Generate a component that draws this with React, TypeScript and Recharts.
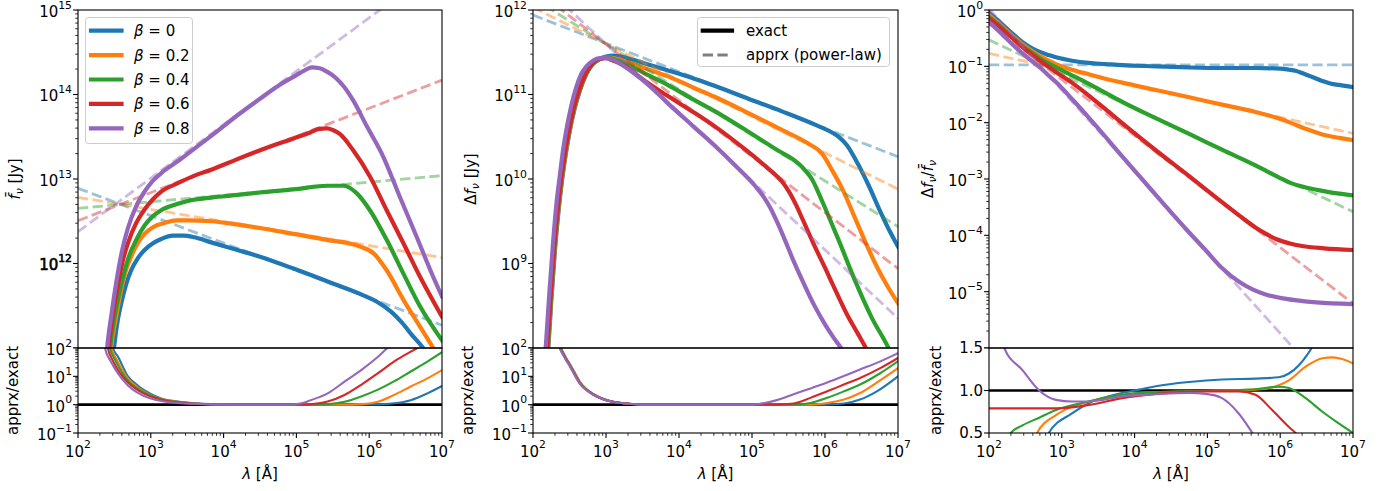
import React from 'react';
import { LineChart, Line, XAxis, YAxis } from 'recharts';

type Pt = [number, number]; // [log10 lambda, value (log10 unless noted)]
type XY = { x: number; y: number };

const FONT = "'DejaVu Sans', 'Liberation Sans', sans-serif";
const COLORS = ['#1f77b4', '#ff7f0e', '#2ca02c', '#d62728', '#9467bd'];
const BETA_LABELS = ['0', '0.2', '0.4', '0.6', '0.8'];

// tick definitions (exponents)
const X_EXP: [number, number] = [2, 7];
const X_LABELED = [2, 3, 4, 5, 6, 7];
const P1_Y_EXP: [number, number] = [11, 15];
const P1_Y_LABELED = [12, 13, 14, 15];
const P2_Y_EXP: [number, number] = [8, 12];
const P2_Y_LABELED = [9, 10, 11, 12];
const P3_Y_EXP: [number, number] = [-6, 0];
const P3_Y_LABELED = [-5, -4, -3, -2, -1, 0];
const RATIO_Y_EXP: [number, number] = [-1, 2];
const RATIO_Y_LABELED = [-1, 0, 1, 2];
const P3_RATIO_TICKS = [0.5, 1.0, 1.5];

// ---------------- Panel 1 : mean flux (log10 Jy) ----------------
const P1_EXACT_B0: Pt[] = [[2.46,10.7],[2.494,11.0],[2.55,11.35],[2.594,11.53],[2.66,11.75],[2.73,11.92],[2.82,12.06],[2.914,12.16],[3.03,12.24],[3.143,12.29],[3.3,12.33],[3.45,12.33],[3.6,12.31],[3.83,12.25],[4.19,12.16],[4.5,12.08],[4.96,11.94],[5.42,11.79],[5.875,11.64],[6.1,11.55],[6.3,11.43],[6.45,11.30],[6.6,11.14],[6.74,11.0],[6.8,10.92]];
const P1_EXACT_B2: Pt[] = [[2.43,10.7],[2.457,11.0],[2.52,11.35],[2.594,11.69],[2.66,11.92],[2.73,12.08],[2.82,12.24],[2.914,12.35],[3.03,12.43],[3.19,12.48],[3.35,12.51],[3.51,12.51],[3.83,12.50],[4.2,12.46],[4.5,12.42],[4.96,12.35],[5.42,12.28],[5.875,12.20],[6.06,12.12],[6.24,11.92],[6.47,11.57],[6.70,11.25],[6.88,11.0],[6.95,10.9]];
const P1_EXACT_B4: Pt[] = [[2.41,10.7],[2.44,11.0],[2.50,11.35],[2.56,11.62],[2.63,11.88],[2.69,12.06],[2.80,12.28],[2.914,12.45],[3.03,12.56],[3.143,12.63],[3.35,12.70],[3.51,12.74],[3.83,12.78],[4.06,12.80],[4.5,12.84],[5.0,12.88],[5.42,12.92],[5.65,12.92],[5.83,12.83],[6.01,12.63],[6.24,12.28],[6.47,11.88],[6.70,11.49],[7.0,11.09]];
const P1_EXACT_B6: Pt[] = [[2.39,10.7],[2.42,11.0],[2.48,11.4],[2.55,11.75],[2.62,12.05],[2.69,12.25],[2.80,12.48],[2.914,12.64],[3.03,12.76],[3.143,12.85],[3.37,12.95],[3.6,13.04],[3.83,13.11],[4.06,13.19],[4.5,13.34],[4.96,13.48],[5.19,13.55],[5.30,13.59],[5.42,13.60],[5.50,13.58],[5.60,13.53],[5.78,13.34],[6.01,13.03],[6.24,12.63],[6.47,12.24],[6.70,11.84],[7.0,11.37]];
const P1_EXACT_B8: Pt[] = [[2.37,10.7],[2.40,11.0],[2.46,11.4],[2.53,11.8],[2.60,12.13],[2.686,12.42],[2.80,12.68],[2.914,12.85],[3.03,12.98],[3.143,13.07],[3.37,13.21],[3.6,13.36],[3.83,13.51],[4.2,13.76],[4.5,13.95],[4.8,14.13],[5.0,14.23],[5.1,14.28],[5.21,14.32],[5.32,14.31],[5.42,14.27],[5.55,14.19],[5.646,14.10],[5.78,13.93],[5.97,13.62],[6.195,13.26],[6.42,12.79],[6.65,12.32],[6.88,11.84],[7.0,11.61]];
const P1_APPRX_B0: Pt[] = [[2, 12.89], [7, 11.27]];
const P1_APPRX_B2: Pt[] = [[2, 12.783], [7, 12.07]];
const P1_APPRX_B4: Pt[] = [[2, 12.653], [7, 13.04]];
const P1_APPRX_B6: Pt[] = [[2, 12.507], [7, 14.17]];
const P1_APPRX_B8: Pt[] = [[2, 12.377], [7, 15.54]];
// log10(apprx/exact)
const P1_RATIO_B0: Pt[] = [[2.46,2.3],[2.48,2.0],[2.55,1.69],[2.686,1.0],[2.80,0.72],[2.914,0.50],[3.143,0.22],[3.37,0.11],[3.6,0.05],[3.83,0.02],[4.5,0.0],[5.5,0.0],[6.0,0.005],[6.2,0.02],[6.34,0.05],[6.57,0.16],[6.8,0.40],[7.0,0.66]];
const P1_RATIO_B2: Pt[] = [[2.44,2.3],[2.46,2.0],[2.53,1.6],[2.686,0.92],[2.80,0.65],[2.914,0.45],[3.143,0.2],[3.37,0.1],[3.6,0.04],[3.83,0.02],[4.5,0],[5.6,0.0],[5.9,0.02],[6.12,0.1],[6.34,0.34],[6.57,0.64],[6.80,0.93],[7.0,1.22]];
const P1_RATIO_B4: Pt[] = [[2.42,2.3],[2.44,2.0],[2.51,1.58],[2.686,0.85],[2.80,0.6],[2.914,0.42],[3.143,0.19],[3.37,0.09],[3.6,0.04],[3.83,0.02],[4.5,0],[5.3,0.0],[5.45,0.02],[5.66,0.1],[5.89,0.29],[6.12,0.53],[6.34,0.82],[6.57,1.17],[6.80,1.52],[7.0,1.85]];
const P1_RATIO_B6: Pt[] = [[2.39,2.3],[2.41,2.0],[2.48,1.55],[2.686,0.78],[2.80,0.55],[2.914,0.38],[3.143,0.17],[3.37,0.08],[3.6,0.03],[3.83,0.01],[4.5,0],[5.1,0.0],[5.25,0.03],[5.43,0.11],[5.66,0.34],[5.89,0.70],[6.12,1.11],[6.34,1.52],[6.57,1.87],[6.66,2.0],[6.72,2.1]];
const P1_RATIO_B8: Pt[] = [[2.35,2.3],[2.37,2.0],[2.457,1.5],[2.549,1.1],[2.686,0.68],[2.80,0.45],[2.914,0.30],[3.143,0.13],[3.37,0.06],[3.6,0.03],[3.83,0.01],[4.5,0],[4.9,0.0],[5.0,0.02],[5.1,0.07],[5.2,0.16],[5.43,0.40],[5.66,0.81],[5.89,1.22],[6.12,1.69],[6.25,2.0],[6.3,2.1]];

// ---------------- Panel 2 : variable flux (log10 Jy) ----------------
const P2_EXACT_B0: Pt[] = [[2.195,7.8],[2.21,8.0],[2.25,8.55],[2.30,9.15],[2.35,9.62],[2.40,10.0],[2.45,10.30],[2.50,10.55],[2.57,10.83],[2.64,11.04],[2.73,11.24],[2.82,11.36],[2.914,11.42],[3.0,11.45],[3.1,11.46],[3.2,11.45],[3.37,11.41],[3.6,11.35],[3.83,11.29],[4.2,11.19],[4.495,11.10],[4.95,10.95],[5.41,10.80],[5.87,10.64],[6.095,10.55],[6.2,10.49],[6.3,10.40],[6.45,10.18],[6.6,9.92],[6.75,9.63],[6.9,9.36],[7.0,9.20]];
const P2_EXACT_B2: Pt[] = [[2.19,7.8],[2.205,8.0],[2.245,8.55],[2.295,9.15],[2.345,9.62],[2.395,10.0],[2.445,10.30],[2.495,10.55],[2.565,10.83],[2.635,11.04],[2.725,11.24],[2.815,11.36],[2.914,11.42],[3.0,11.44],[3.1,11.43],[3.2,11.41],[3.37,11.36],[3.6,11.29],[3.83,11.22],[4.2,11.08],[4.495,10.97],[4.95,10.78],[5.41,10.58],[5.77,10.42],[5.96,10.30],[6.1,10.10],[6.25,9.86],[6.4,9.56],[6.55,9.26],[6.7,8.98],[6.85,8.74],[7.0,8.53]];
const P2_EXACT_B4: Pt[] = [[2.185,7.8],[2.20,8.0],[2.24,8.55],[2.29,9.15],[2.34,9.62],[2.39,10.0],[2.44,10.30],[2.49,10.55],[2.56,10.83],[2.63,11.04],[2.72,11.24],[2.81,11.36],[2.914,11.42],[3.0,11.44],[3.1,11.42],[3.2,11.39],[3.37,11.32],[3.6,11.22],[3.83,11.12],[4.2,10.94],[4.495,10.80],[4.95,10.56],[5.41,10.31],[5.55,10.24],[5.64,10.18],[5.73,10.10],[5.82,10.0],[5.91,9.84],[6.0,9.66],[6.19,9.27],[6.41,8.80],[6.64,8.36],[6.87,8.0],[6.95,7.85]];
const P2_EXACT_B6: Pt[] = [[2.18,7.8],[2.195,8.0],[2.235,8.55],[2.285,9.15],[2.335,9.62],[2.385,10.0],[2.435,10.30],[2.485,10.55],[2.555,10.83],[2.625,11.04],[2.715,11.24],[2.805,11.36],[2.9,11.42],[3.0,11.43],[3.1,11.40],[3.28,11.33],[3.5,11.18],[3.83,10.99],[4.2,10.79],[4.495,10.62],[4.95,10.32],[5.2,10.14],[5.32,10.05],[5.41,9.97],[5.50,9.86],[5.6,9.70],[5.7,9.51],[5.85,9.22],[6.0,8.95],[6.15,8.67],[6.3,8.40],[6.45,8.17],[6.56,8.0],[6.62,7.9]];
const P2_EXACT_B8: Pt[] = [[2.16,7.8],[2.174,8.0],[2.22,8.6],[2.274,9.24],[2.32,9.7],[2.366,10.03],[2.41,10.33],[2.457,10.58],[2.52,10.85],[2.594,11.09],[2.66,11.24],[2.73,11.33],[2.82,11.40],[2.914,11.43],[3.0,11.43],[3.1,11.41],[3.2,11.36],[3.37,11.26],[3.6,11.10],[3.83,10.91],[4.2,10.62],[4.495,10.39],[4.77,10.16],[5.04,9.92],[5.15,9.80],[5.25,9.66],[5.35,9.48],[5.45,9.28],[5.55,9.07],[5.7,8.78],[5.85,8.51],[6.0,8.28],[6.12,8.12],[6.22,8.0],[6.3,7.9]];
const P2_APPRX_B0: Pt[] = [[2, 11.94], [7, 10.264]];
const P2_APPRX_B2: Pt[] = [[2, 12.03], [7, 9.88]];
const P2_APPRX_B4: Pt[] = [[2, 12.14], [7, 9.436]];
const P2_APPRX_B6: Pt[] = [[2, 12.26], [7, 8.94]];
const P2_APPRX_B8: Pt[] = [[2, 12.41], [7, 8.35]];
const P2_RATIO_B0: Pt[] = [[2.345,2.3],[2.385,2.0],[2.455,1.65],[2.525,1.35],[2.655,0.76],[2.845,0.35],[3.07,0.12],[3.29,0.04],[3.52,0.0],[4.5,0],[6.0,0.0],[6.26,0.04],[6.48,0.18],[6.71,0.47],[7.0,1.0]];
const P2_RATIO_B2: Pt[] = [[2.34,2.3],[2.38,2.0],[2.45,1.65],[2.52,1.35],[2.65,0.76],[2.84,0.35],[3.065,0.12],[3.285,0.04],[3.515,0.0],[4.5,0],[5.8,0.0],[6.03,0.06],[6.26,0.18],[6.48,0.41],[6.75,0.85],[7.0,1.29]];
const P2_RATIO_B4: Pt[] = [[2.335,2.3],[2.375,2.0],[2.445,1.65],[2.515,1.35],[2.645,0.76],[2.835,0.35],[3.06,0.12],[3.28,0.04],[3.51,0.0],[4.5,0],[5.6,0.0],[5.8,0.06],[6.03,0.24],[6.25,0.46],[6.48,0.71],[6.75,1.1],[7.0,1.53]];
const P2_RATIO_B6: Pt[] = [[2.33,2.3],[2.37,2.0],[2.44,1.65],[2.51,1.35],[2.64,0.76],[2.83,0.35],[3.06,0.12],[3.28,0.04],[3.51,0.0],[4.5,0],[5.35,0.0],[5.57,0.04],[5.80,0.24],[6.03,0.47],[6.25,0.70],[6.48,0.94],[6.75,1.28],[7.0,1.65]];
const P2_RATIO_B8: Pt[] = [[2.325,2.3],[2.365,2.0],[2.435,1.65],[2.505,1.35],[2.635,0.76],[2.825,0.35],[3.055,0.12],[3.275,0.04],[3.505,0.0],[4.5,0],[5.0,0.0],[5.11,0.03],[5.34,0.16],[5.57,0.37],[5.8,0.57],[6.03,0.78],[6.25,1.0],[6.48,1.24],[6.75,1.52],[7.0,1.82]];

// ---------------- Panel 3 : fractional variability (log10) ----------------
const P3_EXACT_B0: Pt[] = [[2.0,-0.05],[2.12,-0.18],[2.23,-0.31],[2.35,-0.45],[2.46,-0.57],[2.58,-0.67],[2.69,-0.74],[2.82,-0.80],[2.92,-0.84],[3.14,-0.90],[3.37,-0.94],[3.6,-0.96],[3.83,-0.98],[4.29,-1.0],[4.75,-1.02],[5.2,-1.03],[5.66,-1.03],[6.0,-1.04],[6.12,-1.06],[6.21,-1.08],[6.3,-1.12],[6.40,-1.17],[6.5,-1.22],[6.58,-1.26],[6.7,-1.31],[6.81,-1.33],[7.0,-1.37]];
const P3_EXACT_B2: Pt[] = [[2.0,-0.09],[2.12,-0.22],[2.23,-0.35],[2.35,-0.49],[2.46,-0.61],[2.58,-0.72],[2.69,-0.81],[2.82,-0.90],[2.92,-0.96],[3.14,-1.06],[3.37,-1.14],[3.6,-1.22],[3.83,-1.29],[4.29,-1.42],[4.75,-1.55],[5.2,-1.68],[5.66,-1.81],[5.94,-1.91],[6.12,-1.99],[6.35,-2.11],[6.58,-2.21],[6.72,-2.25],[6.85,-2.28],[7.0,-2.31]];
const P3_EXACT_B4: Pt[] = [[2.0,-0.12],[2.12,-0.25],[2.23,-0.38],[2.35,-0.52],[2.46,-0.64],[2.58,-0.75],[2.69,-0.85],[2.82,-0.95],[2.92,-1.02],[3.14,-1.16],[3.37,-1.31],[3.6,-1.47],[3.83,-1.63],[4.29,-1.92],[4.75,-2.20],[5.2,-2.48],[5.66,-2.76],[5.98,-2.97],[6.12,-3.06],[6.35,-3.15],[6.58,-3.21],[6.81,-3.26],[7.0,-3.29]];
const P3_EXACT_B6: Pt[] = [[2.0,-0.15],[2.12,-0.27],[2.23,-0.40],[2.35,-0.53],[2.46,-0.66],[2.58,-0.78],[2.69,-0.89],[2.82,-1.01],[2.92,-1.10],[3.14,-1.29],[3.37,-1.52],[3.6,-1.76],[3.83,-2.01],[4.29,-2.49],[4.75,-2.95],[5.2,-3.41],[5.43,-3.64],[5.66,-3.86],[5.8,-3.97],[5.95,-4.07],[6.12,-4.14],[6.3,-4.19],[6.6,-4.23],[7.0,-4.26]];
const P3_EXACT_B8: Pt[] = [[2.0,-0.22],[2.1,-0.33],[2.21,-0.47],[2.33,-0.62],[2.46,-0.77],[2.58,-0.90],[2.69,-1.01],[2.8,-1.14],[2.92,-1.28],[3.14,-1.58],[3.37,-1.91],[3.6,-2.25],[3.83,-2.60],[4.29,-3.28],[4.75,-3.95],[4.98,-4.27],[5.2,-4.58],[5.43,-4.82],[5.62,-4.96],[5.8,-5.05],[6.0,-5.11],[6.2,-5.15],[6.5,-5.19],[7.0,-5.22]];
const P3_APPRX_B0: Pt[] = [[2, -0.975], [7, -0.975]];
const P3_APPRX_B2: Pt[] = [[2, -0.77], [7, -2.19]];
const P3_APPRX_B4: Pt[] = [[2, -0.53], [7, -3.58]];
const P3_APPRX_B6: Pt[] = [[2, -0.24], [7, -5.21]];
const P3_APPRX_B8: Pt[] = [[2, 0.02], [7, -7.18]];
// linear apprx/exact
const P3_RATIO_B0: Pt[] = [[2.78,0.4],[2.82,0.5],[3.14,0.73],[3.37,0.85],[3.83,0.97],[4.06,1.01],[4.29,1.05],[4.75,1.10],[5.2,1.13],[5.66,1.14],[5.98,1.155],[6.12,1.2],[6.26,1.30],[6.37,1.42],[6.43,1.5],[6.47,1.58]];
const P3_RATIO_B2: Pt[] = [[2.62,0.4],[2.66,0.5],[2.92,0.71],[3.14,0.81],[3.37,0.87],[3.83,0.95],[4.29,0.98],[4.75,0.99],[5.2,1.0],[5.66,1.01],[5.94,1.05],[6.12,1.12],[6.35,1.28],[6.58,1.38],[6.72,1.39],[6.85,1.37],[7.0,1.32]];
const P3_RATIO_B4: Pt[] = [[2.25,0.4],[2.30,0.5],[2.46,0.59],[2.69,0.68],[2.92,0.77],[3.37,0.87],[3.83,0.95],[4.29,0.98],[4.75,0.99],[5.2,1.0],[5.66,1.015],[5.98,1.045],[6.12,1.03],[6.35,0.91],[6.58,0.75],[6.81,0.61],[7.0,0.5]];
const P3_RATIO_B6: Pt[] = [[2.0,0.79],[2.5,0.79],[2.92,0.79],[3.37,0.83],[3.83,0.91],[4.29,0.96],[4.98,0.99],[5.43,0.99],[5.66,0.95],[5.89,0.77],[6.12,0.57],[6.21,0.5],[6.26,0.45]];
const P3_RATIO_B8: Pt[] = [[2.17,1.6],[2.21,1.5],[2.46,1.24],[2.69,1.0],[2.92,0.89],[3.14,0.87],[3.37,0.87],[3.83,0.93],[4.29,0.955],[4.75,0.97],[4.98,0.96],[5.2,0.91],[5.43,0.73],[5.62,0.5],[5.66,0.45]];

const RATIO_ONE_LOG: Pt[] = [[2, 0], [7, 0]];
const RATIO_ONE_LIN: Pt[] = [[2, 1], [7, 1]];

const P1_EXACT = [P1_EXACT_B0, P1_EXACT_B2, P1_EXACT_B4, P1_EXACT_B6, P1_EXACT_B8];
const P1_APPRX = [P1_APPRX_B0, P1_APPRX_B2, P1_APPRX_B4, P1_APPRX_B6, P1_APPRX_B8];
const P1_RATIO = [P1_RATIO_B0, P1_RATIO_B2, P1_RATIO_B4, P1_RATIO_B6, P1_RATIO_B8];
const P2_EXACT = [P2_EXACT_B0, P2_EXACT_B2, P2_EXACT_B4, P2_EXACT_B6, P2_EXACT_B8];
const P2_APPRX = [P2_APPRX_B0, P2_APPRX_B2, P2_APPRX_B4, P2_APPRX_B6, P2_APPRX_B8];
const P2_RATIO = [P2_RATIO_B0, P2_RATIO_B2, P2_RATIO_B4, P2_RATIO_B6, P2_RATIO_B8];
const P3_EXACT = [P3_EXACT_B0, P3_EXACT_B2, P3_EXACT_B4, P3_EXACT_B6, P3_EXACT_B8];
const P3_APPRX = [P3_APPRX_B0, P3_APPRX_B2, P3_APPRX_B4, P3_APPRX_B6, P3_APPRX_B8];
const P3_RATIO = [P3_RATIO_B0, P3_RATIO_B2, P3_RATIO_B4, P3_RATIO_B6, P3_RATIO_B8];

// ---------------- helpers ----------------
const toLog = (pts: Pt[]): XY[] => pts.map(([l, v]) => ({ x: Math.pow(10, l), y: Math.pow(10, v) }));
const toLin = (pts: Pt[]): XY[] => pts.map(([l, v]) => ({ x: Math.pow(10, l), y: v }));

function logTicks([lo, hi]: [number, number]): number[] {
  const t: number[] = [];
  for (let e = lo; e <= hi; e++) {
    t.push(Math.pow(10, e));
    if (e < hi) for (let k = 2; k <= 9; k++) t.push(k * Math.pow(10, e));
  }
  return t;
}
const expText = (e: number) => (e < 0 ? `\u2212${-e}` : `${e}`);
const majorExp = (v: number): number | null => {
  const e = Math.log10(v);
  const r = Math.round(e);
  return Math.abs(e - r) < 1e-6 ? r : null;
};

const FS = 15;
const SUP = 10.8;

const XTick = (p: any) => {
  const r = majorExp(p.payload.value);
  const major = r !== null;
  return (
    <g>
      <line x1={p.x} x2={p.x} y1={p.y} y2={p.y + (major ? 4.9 : 2.8)} stroke="#000" strokeWidth={major ? 1.1 : 0.8} />
      {major && X_LABELED.includes(r as number) && (
        <text x={p.x} y={p.y + 23.5} textAnchor="middle" fontFamily={FONT} fontSize={FS} fill="#000">
          10<tspan dy={-8.5} fontSize={SUP}>{expText(r as number)}</tspan>
        </text>
      )}
    </g>
  );
};

const makeLogYTick = (labeled: number[], bold: number[] = []) => (p: any) => {
  const r = majorExp(p.payload.value);
  const major = r !== null;
  const lab = major && labeled.includes(r as number);
  const isBold = lab && bold.includes(r as number);
  return (
    <g>
      <line x1={p.x - (major ? 4.9 : 2.8)} x2={p.x} y1={p.y} y2={p.y} stroke="#000" strokeWidth={major ? 1.1 : 0.8} />
      {lab && (
        <text x={p.x - 6} y={p.y + 6.9} textAnchor="end" fontFamily={FONT} fontSize={FS} fill="#000"
          stroke={isBold ? '#000' : 'none'} strokeWidth={isBold ? 0.6 : 0}>
          10<tspan dy={-8.3} fontSize={SUP}>{expText(r as number)}</tspan>
        </text>
      )}
    </g>
  );
};

const LinYTick = (p: any) => (
  <g>
    <line x1={p.x - 4.9} x2={p.x} y1={p.y} y2={p.y} stroke="#000" strokeWidth={1.1} />
    <text x={p.x - 6} y={p.y + 5.4} textAnchor="end" fontFamily={FONT} fontSize={FS} fill="#000">
      {Number(p.payload.value).toFixed(1)}
    </text>
  </g>
);

interface SeriesSpec { data: XY[]; color: string; width: number; dashed?: boolean; opacity?: number; linear?: boolean; }

const YW = 78, MT = 16, MR = 16, XH = 58;
const X_TICKS = logTicks(X_EXP);

function Panel(props: {
  px: number; py: number; pw: number; ph: number;
  yDomain: [number, number]; yLog: boolean; yTicks: number[]; yTick: any;
  showX: boolean; series: SeriesSpec[];
}) {
  const { px, py, pw, ph, yDomain, yLog, yTicks, yTick, showX, series } = props;
  return (
    <div style={{ position: 'absolute', left: px - YW, top: py - MT }}>
      <LineChart width={YW + pw + MR} height={MT + ph + (showX ? XH : 0)} margin={{ top: MT, right: MR, bottom: 0, left: 0 }}>
        <XAxis type="number" dataKey="x" scale="log" domain={[100, 1e7]} allowDataOverflow ticks={X_TICKS} interval={0}
          hide={!showX} height={XH} tickSize={0} tickMargin={0} axisLine={false} tickLine={false} tick={XTick} />
        <YAxis type="number" scale={yLog ? 'log' : 'linear'} domain={yDomain} allowDataOverflow ticks={yTicks} interval={0}
          width={YW} tickSize={0} tickMargin={0} axisLine={false} tickLine={false} tick={yTick} />
        {series.map((s, i) => (
          <Line key={i} data={s.data} dataKey="y" type={s.linear ? 'linear' : 'monotone'} stroke={s.color}
            strokeWidth={s.width} strokeOpacity={s.opacity ?? 1} strokeDasharray={s.dashed ? '10.3 4.4' : undefined}
            strokeLinecap={s.dashed ? 'butt' : 'square'} strokeLinejoin="round"
            dot={false} activeDot={false} isAnimationActive={false} />
        ))}
      </LineChart>
    </div>
  );
}

const topSeries = (exact: Pt[][], apprx: Pt[][]): SeriesSpec[] =>
  exact.flatMap((e, i) => [
    { data: toLog(e), color: COLORS[i], width: 4.2 },
    { data: toLog(apprx[i]), color: COLORS[i], width: 2.8, dashed: true, opacity: 0.45, linear: true },
  ]);
const ratioSeries = (ratio: Pt[][], lin: boolean): SeriesSpec[] => [
  { data: lin ? toLin(RATIO_ONE_LIN) : toLog(RATIO_ONE_LOG), color: '#000', width: 2.6, linear: true },
  ...ratio.map((r, i) => ({ data: lin ? toLin(r) : toLog(r), color: COLORS[i], width: 2.1 })),
];

const PANELS = [
  { x: 78, w: 364 },
  { x: 533, w: 365 },
  { x: 989, w: 364 },
];
const TOP_Y = 10, TOP_H = 338, BOT_Y = 348, BOT_H = 85;

function RotLabel({ x, y, children }: { x: number; y: number; children: React.ReactNode }) {
  return (
    <text transform={`translate(${x},${y}) rotate(-90)`} textAnchor="middle" fontFamily={FONT} fontSize={FS} fill="#000">
      {children}
    </text>
  );
}

function Overlay() {
  return (
    <svg width={1390} height={491} style={{ position: 'absolute', left: 0, top: 0, pointerEvents: 'none' }}>
      {PANELS.map((p, i) => (
        <g key={i}>
          <rect x={p.x} y={TOP_Y} width={p.w} height={TOP_H} fill="none" stroke="#000" strokeWidth={1.1} />
          <rect x={p.x} y={BOT_Y} width={p.w} height={BOT_H} fill="none" stroke="#000" strokeWidth={1.1} />
          <text x={p.x + p.w / 2} y={479} textAnchor="middle" fontFamily={FONT} fontSize={FS} fill="#000">
            <tspan fontStyle="italic">λ</tspan> [Å]
          </text>
        </g>
      ))}
      <RotLabel x={20} y={179}>
        <tspan fontStyle="italic">{'f\u0304'}</tspan>
        <tspan fontStyle="italic" fontSize={SUP} dy={3}>ν</tspan>
        <tspan dy={-3}> [Jy]</tspan>
      </RotLabel>
      <RotLabel x={476} y={179}>
        <tspan>Δ</tspan><tspan fontStyle="italic">f</tspan>
        <tspan fontStyle="italic" fontSize={SUP} dy={3}>ν</tspan>
        <tspan dy={-3}> [Jy]</tspan>
      </RotLabel>
      <RotLabel x={933} y={179}>
        <tspan>Δ</tspan><tspan fontStyle="italic">f</tspan>
        <tspan fontStyle="italic" fontSize={SUP} dy={3}>ν</tspan>
        <tspan dy={-3}>/</tspan><tspan fontStyle="italic">{'f\u0304'}</tspan>
        <tspan fontStyle="italic" fontSize={SUP} dy={3}>ν</tspan>
      </RotLabel>
      <RotLabel x={18} y={390.5}>apprx/exact</RotLabel>
      <RotLabel x={473} y={390.5}>apprx/exact</RotLabel>
      <RotLabel x={941} y={390.5}>apprx/exact</RotLabel>

      {/* legend: beta */}
      <rect x={85.5} y={17.5} width={107} height={126} rx={3} fill="#fff" fillOpacity={0.8} stroke="#cccccc" strokeWidth={1} />
      {BETA_LABELS.map((b, i) => {
        const y = 30.7 + 24.4 * i;
        return (
          <g key={b}>
            <line x1={91} x2={121.5} y1={y} y2={y} stroke={COLORS[i]} strokeWidth={4.2} strokeLinecap="square" />
            <text x={134} y={y + 5.4} fontFamily={FONT} fontSize={FS} fill="#000">
              <tspan fontStyle="italic">β</tspan>{' = '}{b}
            </text>
          </g>
        );
      })}

      {/* legend: exact / apprx */}
      <rect x={697.5} y={17.5} width={192} height={49} rx={3} fill="#fff" fillOpacity={0.8} stroke="#cccccc" strokeWidth={1} />
      <line x1={702.8} x2={732} y1={30.7} y2={30.7} stroke="#000" strokeWidth={4.2} strokeLinecap="square" />
      <text x={746} y={36} fontFamily={FONT} fontSize={FS} fill="#000">exact</text>
      <line x1={702.7} x2={730.5} y1={55} y2={55} stroke="#000" strokeOpacity={0.5} strokeWidth={2.8} strokeDasharray="10.3 4.4" />
      <text x={746} y={60.3} fontFamily={FONT} fontSize={FS} fill="#000">apprx (power-law)</text>
    </svg>
  );
}

export default function App() {
  const p1 = PANELS[0], p2 = PANELS[1], p3 = PANELS[2];
  return (
    <div style={{ position: 'absolute', left: 0, top: 0, width: 1390, height: 491, background: '#fff', overflow: 'hidden', fontFamily: FONT }}>
      <Panel px={p1.x} py={TOP_Y} pw={p1.w} ph={TOP_H} yDomain={[1e11, 1e15]} yLog yTicks={logTicks(P1_Y_EXP)}
        yTick={makeLogYTick(P1_Y_LABELED, [12])} showX={false} series={topSeries(P1_EXACT, P1_APPRX)} />
      <Panel px={p1.x} py={BOT_Y} pw={p1.w} ph={BOT_H} yDomain={[0.1, 100]} yLog yTicks={logTicks(RATIO_Y_EXP)}
        yTick={makeLogYTick(RATIO_Y_LABELED)} showX series={ratioSeries(P1_RATIO, false)} />

      <Panel px={p2.x} py={TOP_Y} pw={p2.w} ph={TOP_H} yDomain={[1e8, 1e12]} yLog yTicks={logTicks(P2_Y_EXP)}
        yTick={makeLogYTick(P2_Y_LABELED)} showX={false} series={topSeries(P2_EXACT, P2_APPRX)} />
      <Panel px={p2.x} py={BOT_Y} pw={p2.w} ph={BOT_H} yDomain={[0.1, 100]} yLog yTicks={logTicks(RATIO_Y_EXP)}
        yTick={makeLogYTick(RATIO_Y_LABELED)} showX series={ratioSeries(P2_RATIO, false)} />

      <Panel px={p3.x} py={TOP_Y} pw={p3.w} ph={TOP_H} yDomain={[1e-6, 1]} yLog yTicks={logTicks(P3_Y_EXP)}
        yTick={makeLogYTick(P3_Y_LABELED)} showX={false} series={topSeries(P3_EXACT, P3_APPRX)} />
      <Panel px={p3.x} py={BOT_Y} pw={p3.w} ph={BOT_H} yDomain={[0.5, 1.5]} yLog={false} yTicks={P3_RATIO_TICKS}
        yTick={LinYTick} showX series={ratioSeries(P3_RATIO, true)} />

      <Overlay />
    </div>
  );
}
